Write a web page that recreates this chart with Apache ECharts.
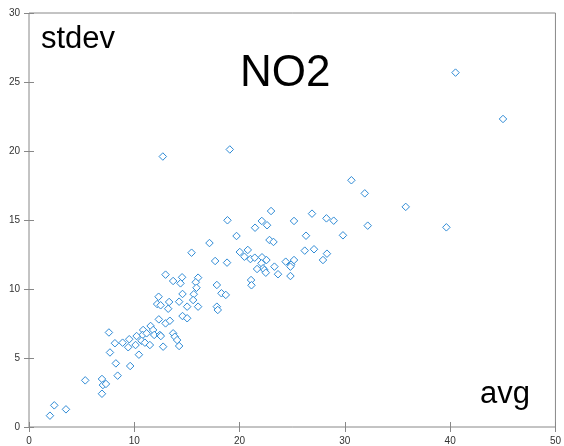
<!DOCTYPE html>
<html>
<head>
<meta charset="utf-8">
<script src="https://cdn.jsdelivr.net/npm/echarts@6/dist/echarts.min.js"></script>
<style>
html,body{margin:0;padding:0;background:#fff;}
#chart{width:564px;height:446px;}
</style>
</head>
<body>
<div id="chart"></div>
<script>
var xTicks = [0, 10, 20, 30, 40, 50];
var yTicks = [0, 5, 10, 15, 20, 25, 30];
var avgValues = [
  1.99, 2.40, 3.51, 5.34, 6.93, 7.02, 7.31, 6.93, 8.42, 8.25,
  9.61, 7.69, 10.44, 7.59, 9.42, 10.84, 11.55, 10.79, 11.17, 11.79,
  10.22, 9.52, 8.89, 8.16, 10.12, 10.69, 11.01, 11.48, 11.89, 12.43,
  12.52, 13.69, 13.85, 14.07, 14.26, 12.74, 12.33, 12.97, 13.38, 14.58,
  15.02, 12.17, 12.50, 13.31, 13.22, 14.26, 15.02, 17.14, 15.44, 17.68,
  18.81, 12.97, 13.69, 14.54, 14.39, 16.06, 15.84, 15.91, 15.65, 17.84,
  18.28, 18.69, 14.58, 12.31, 15.59, 16.06, 17.84, 17.93, 30.62, 22.99,
  26.88, 28.25, 28.94, 25.17, 22.11, 22.61, 21.47, 26.31, 29.82, 19.71,
  22.84, 23.22, 18.85, 20.02, 20.78, 20.46, 21.03, 21.44, 26.19, 27.07,
  28.30, 27.92, 22.13, 22.55, 22.08, 22.23, 21.66, 22.36, 22.49, 24.38,
  24.89, 25.17, 24.83, 23.31, 23.65, 24.83, 21.09, 21.13, 12.71, 19.07,
  40.51, 45.02, 31.89, 35.78, 32.17, 39.64
];
var stdevValues = [
  0.82, 1.57, 1.28, 3.38, 3.48, 3.04, 3.12, 2.41, 3.72, 4.61,
  4.42, 5.40, 5.24, 6.85, 5.78, 7.03, 7.32, 6.67, 6.79, 7.03,
  6.59, 6.36, 6.11, 6.07, 5.94, 6.25, 6.11, 5.94, 6.67, 6.67,
  6.59, 6.79, 6.54, 6.30, 5.87, 5.82, 7.80, 7.51, 7.70, 8.04,
  7.88, 8.91, 8.82, 9.06, 8.57, 9.08, 8.72, 13.33, 12.63, 12.03,
  11.91, 11.04, 10.58, 10.85, 10.41, 10.82, 10.49, 10.09, 9.62, 10.29,
  9.69, 9.57, 9.64, 9.44, 9.20, 8.72, 8.72, 8.48, 17.88, 15.65,
  15.46, 15.12, 14.95, 14.93, 14.93, 14.62, 14.44, 13.86, 13.89, 13.84,
  13.55, 13.41, 14.98, 12.68, 12.83, 12.34, 12.17, 12.27, 12.78, 12.88,
  12.56, 12.10, 12.30, 12.10, 11.86, 11.50, 11.45, 11.38, 11.18, 11.98,
  11.76, 12.10, 11.62, 11.62, 11.07, 10.94, 10.65, 10.27, 19.60, 20.11,
  25.68, 22.32, 16.93, 15.95, 14.59, 14.47
];
var titleText = 'NO2';
var yName = 'stdev';
var xName = 'avg';

var points = avgValues.map(function (v, i) { return [v, stdevValues[i]]; });

var chart = echarts.init(document.getElementById('chart'), null, {renderer: 'canvas'});
var fontFam = '"Liberation Sans", Arial, sans-serif';
var tickStyle = {show: true, inside: true, length: 5, lineStyle: {color: '#888', width: 1}};
var labelStyle = {color: '#333', fontSize: 10, fontFamily: fontFam};
chart.setOption({
  animation: false,
  backgroundColor: '#fff',
  grid: {left: 29, right: 8, top: 13, bottom: 19, show: true, borderColor: '#888', borderWidth: 1, backgroundColor: 'transparent'},
  xAxis: [
    {type: 'value', min: 0, max: 50, interval: 10, position: 'bottom',
     axisLine: {show: false}, axisTick: tickStyle, splitLine: {show: false},
     axisLabel: Object.assign({margin: 9, showMinLabel: true, showMaxLabel: true}, labelStyle)},
    {type: 'value', min: 0, max: 50, interval: 10, position: 'top',
     axisLine: {show: false}, axisTick: tickStyle, splitLine: {show: false}, axisLabel: {show: false}}
  ],
  yAxis: [
    {type: 'value', min: 0, max: 30, interval: 5, position: 'left',
     axisLine: {show: false}, axisTick: tickStyle, splitLine: {show: false},
     axisLabel: Object.assign({margin: 9, showMinLabel: true, showMaxLabel: true}, labelStyle)},
    {type: 'value', min: 0, max: 30, interval: 5, position: 'right',
     axisLine: {show: false}, axisTick: tickStyle, splitLine: {show: false}, axisLabel: {show: false}}
  ],
  series: [{
    type: 'scatter',
    xAxisIndex: 0, yAxisIndex: 0,
    symbol: 'diamond',
    symbolSize: 7.5,
    data: points,
    itemStyle: {color: '#fff', borderColor: '#2f8bd6', borderWidth: 1, opacity: 1},
    emphasis: {disabled: true}
  }],
  graphic: [
    {type: 'text', left: 41, top: 24, style: {text: yName, font: '31px ' + fontFam, fill: '#000'}},
    {type: 'text', left: 240, top: 52, style: {text: titleText, font: '44px ' + fontFam, fill: '#000'}},
    {type: 'text', left: 480, top: 379, style: {text: xName, font: '31px ' + fontFam, fill: '#000'}}
  ]
});
</script>
</body>
</html>
